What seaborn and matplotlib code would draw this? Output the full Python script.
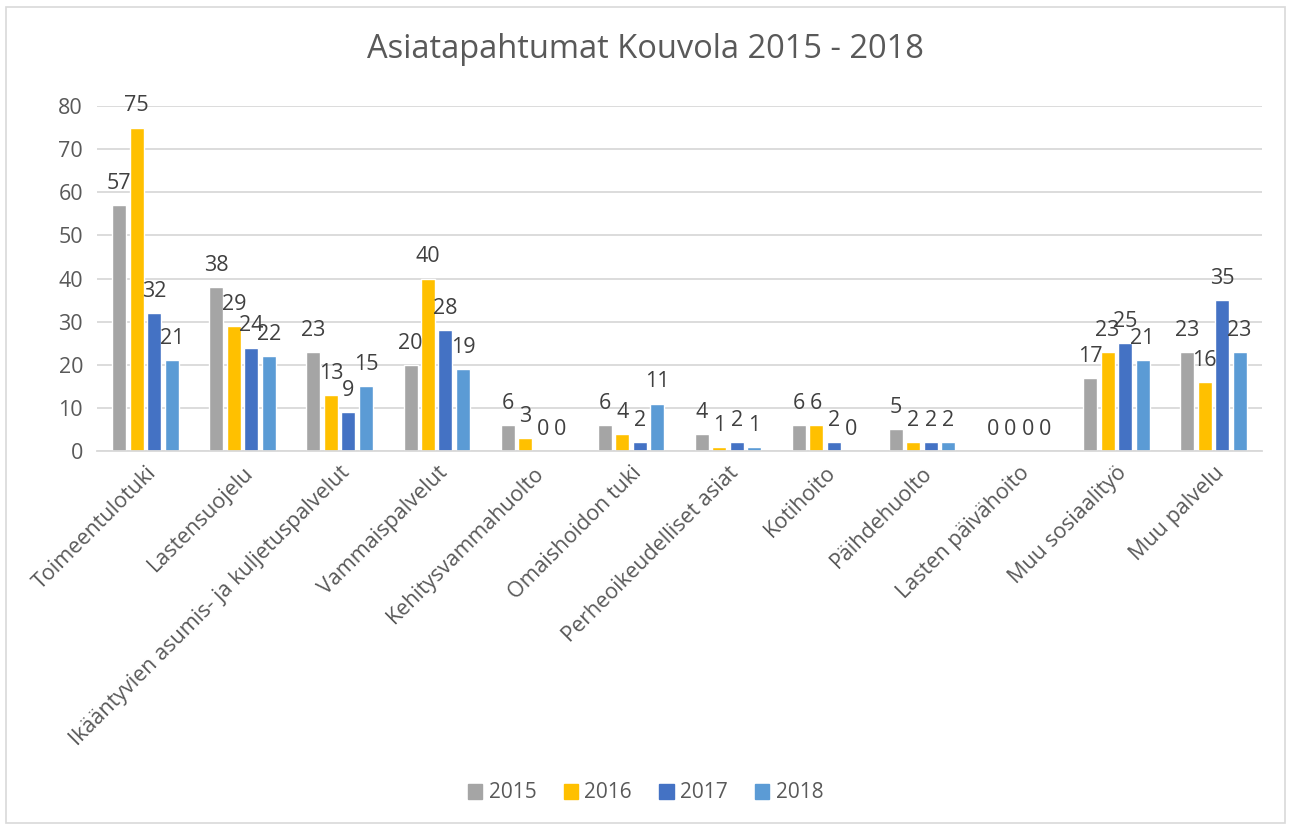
import seaborn as sns
import matplotlib.pyplot as plt
import matplotlib.patches as mpatches
import pandas as pd

# Categories (x-axis)
categories = [
    'Toimeentulotuki', 'Lastensuojelu', 'Ikääntyvien asumis- ja kuljetuspalvelut',
    'Vammaispalvelut', 'Kehitysvammahuolto', 'Omaishoidon tuki',
    'Perheoikeudelliset asiat', 'Kotihoito', 'Päihdehuolto',
    'Lasten päivähoito', 'Muu sosiaalityö', 'Muu palvelu'
]

years = ['2015', '2016', '2017', '2018']

values_2015 = [57, 38, 23, 20, 6, 6, 4, 6, 5, 0, 17, 23]
values_2016 = [75, 29, 13, 40, 3, 4, 1, 6, 2, 0, 23, 16]
values_2017 = [32, 24, 9, 28, 0, 2, 2, 2, 2, 0, 25, 35]
values_2018 = [21, 22, 15, 19, 0, 11, 1, 0, 2, 0, 21, 23]

colors = ['#A5A5A5', '#FFC000', '#4472C4', '#5B9BD5']

# Long format for seaborn
data = pd.DataFrame({
    'kategoria': categories * 4,
    'vuosi': [y for y in years for _ in categories],
    'arvo': values_2015 + values_2016 + values_2017 + values_2018,
})

sns.set_theme(style='white')
plt.rcParams['font.family'] = ['Open Sans', 'DejaVu Sans']

fig = plt.figure(figsize=(12.91, 8.25), dpi=100)
ax = fig.add_axes([0.0751, 0.4533, 0.9024, 0.4182])

sns.barplot(data=data, x='kategoria', y='arvo', hue='vuosi', order=categories,
            hue_order=years, palette=colors, width=0.72, gap=0.2,
            saturation=1, legend=False, ax=ax)

# Data labels above each bar
for cont in ax.containers:
    ax.bar_label(cont, padding=8, fontsize=15.5, color='#404040')

ax.set_ylim(0, 80)
ax.set_yticks(range(0, 81, 10))
ax.set_xlim(-0.5, len(categories) - 0.5)
ax.set_xlabel('')
ax.set_ylabel('')

ax.grid(True, axis='y', color='#D9D9D9', linewidth=1.3)
ax.set_axisbelow(True)
for s in ['top', 'right', 'left']:
    ax.spines[s].set_visible(False)
ax.spines['bottom'].set_color('#D9D9D9')
ax.spines['bottom'].set_linewidth(1.3)

ax.tick_params(axis='y', length=0, pad=10, labelsize=15.5, labelcolor='#595959')
ax.tick_params(axis='x', length=0, pad=8, labelsize=15.5, labelcolor='#595959')
plt.setp(ax.get_xticklabels(), rotation=45, ha='right', va='top',
         rotation_mode='anchor')

# Title
fig.text(0.5, 1 - 50 / 825, 'Asiatapahtumat Kouvola 2015 - 2018',
         ha='center', va='center', fontsize=23.5, color='#595959')

# Legend at bottom
handles = [mpatches.Patch(color=c, label=y) for c, y in zip(colors, years)]
fig.legend(handles=handles, loc='center', bbox_to_anchor=(0.5, 1 - 793 / 825),
           ncol=4, frameon=False, fontsize=15, handlelength=0.7,
           handleheight=0.7, handletextpad=0.3, columnspacing=1.3,
           labelcolor='#595959')

# Thin border around the chart
fig.patches.append(mpatches.Rectangle((6 / 1291, 0.002), 1 - 12 / 1291, 0.99,
                                      transform=fig.transFigure, fill=False,
                                      edgecolor='#D9D9D9', linewidth=1.2))

fig.savefig('out.png', dpi=100)
